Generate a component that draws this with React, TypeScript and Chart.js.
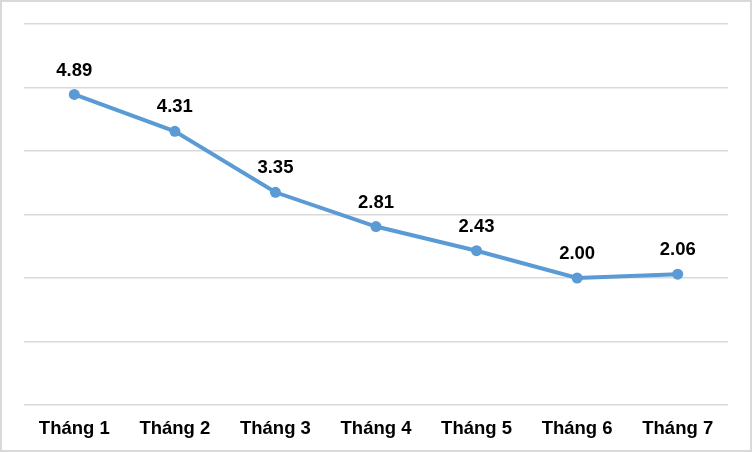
import React, { useEffect, useRef } from "react";
import { Chart, registerables } from "chart.js";

Chart.register(...registerables);

const months = ["Tháng 1", "Tháng 2", "Tháng 3", "Tháng 4", "Tháng 5", "Tháng 6", "Tháng 7"];
const values = [4.89, 4.31, 3.35, 2.81, 2.43, 2.0, 2.06];

const FONT = "'Liberation Sans', Arial, sans-serif";

// draw the value above each point, Excel style
const valueLabels = {
  id: "valueLabels",
  afterDatasetsDraw(chart: any) {
    const ctx = chart.ctx;
    const meta = chart.getDatasetMeta(0);
    ctx.save();
    ctx.font = `bold 18.5px ${FONT}`;
    ctx.fillStyle = "#000";
    ctx.textAlign = "center";
    ctx.textBaseline = "middle";
    meta.data.forEach((pt: any, i: number) => {
      ctx.fillText(values[i].toFixed(2), pt.x, pt.y - 24);
    });
    ctx.restore();
  },
};

// light grey frame round the whole chart
const frame = {
  id: "frame",
  beforeDraw(chart: any) {
    const ctx = chart.ctx;
    ctx.save();
    ctx.fillStyle = "#fff";
    ctx.fillRect(0, 0, chart.width, chart.height);
    ctx.strokeStyle = "#d9d9d9";
    ctx.lineWidth = 2;
    ctx.strokeRect(1, 1, chart.width - 2, chart.height - 2);
    ctx.restore();
  },
};

const App: React.FC = () => {
  const chartRef = useRef<HTMLCanvasElement | null>(null);

  useEffect(() => {
    document.body.style.margin = "0";
    document.body.style.overflow = "hidden";
    if (!chartRef.current) return;

    const chart = new Chart(chartRef.current, {
      type: "line",
      data: {
        labels: months,
        datasets: [
          {
            data: values,
            borderColor: "#5b9bd5",
            backgroundColor: "#5b9bd5",
            borderWidth: 4,
            pointRadius: 5.5,
            pointBorderWidth: 0,
            tension: 0,
          },
        ],
      },
      options: {
        responsive: false,
        animation: false,
        layout: { padding: { left: 24, right: 24, top: 24, bottom: 0 } },
        plugins: { legend: { display: false }, tooltip: { enabled: false } },
        scales: {
          x: {
            offset: true,
            grid: { display: false },
            border: { display: false },
            ticks: {
              color: "#000",
              padding: 5,
              font: { family: FONT, size: 18.5, weight: "bold" },
            },
            afterFit: (scale: any) => {
              scale.height = 47;
            },
          },
          y: {
            min: 0,
            max: 6,
            display: true,
            ticks: { display: false, stepSize: 1 },
            grid: { color: "#d9d9d9", lineWidth: 1.5, drawTicks: false },
            border: { display: false },
            afterFit: (scale: any) => {
              scale.width = 0;
            },
          },
        },
      },
      plugins: [frame, valueLabels],
    });

    return () => {
      chart.destroy();
    };
  }, []);

  return <canvas ref={chartRef} width={752} height={452} style={{ display: "block" }} />;
};

export default App;
